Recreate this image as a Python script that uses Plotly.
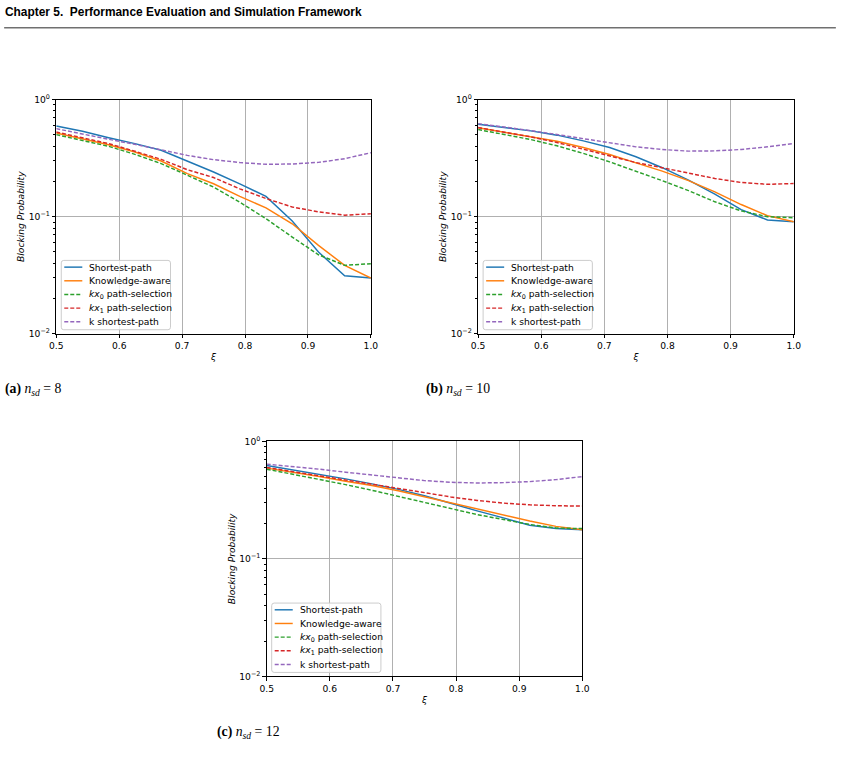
import plotly.graph_objects as go

# ---------------- data ----------------
xi = [0.5, 0.5417, 0.5833, 0.625, 0.6667, 0.7083, 0.75, 0.7917, 0.8333, 0.875, 0.9167, 0.9583, 1.0]

series_names = ["Shortest-path", "Knowledge-aware",
                "<i>kx</i><sub>0</sub> path-selection",
                "<i>kx</i><sub>1</sub> path-selection",
                "k shortest-path"]

# n_sd = 8
a_shortest = [0.596, 0.536, 0.473, 0.421, 0.369, 0.299, 0.241, 0.191, 0.149, 0.092, 0.0499, 0.0313, 0.0299]
a_knowledge = [0.519, 0.461, 0.412, 0.357, 0.299, 0.233, 0.191, 0.149, 0.119, 0.087, 0.0569, 0.0384, 0.0299]
a_kx0 = [0.502, 0.449, 0.399, 0.341, 0.284, 0.226, 0.179, 0.133, 0.0961, 0.067, 0.0473, 0.0384, 0.0397]
a_kx1 = [0.529, 0.470, 0.421, 0.362, 0.309, 0.252, 0.216, 0.173, 0.143, 0.121, 0.110, 0.103, 0.106]
a_kshort = [0.565, 0.506, 0.458, 0.415, 0.374, 0.334, 0.307, 0.290, 0.280, 0.282, 0.291, 0.313, 0.352]

# n_sd = 10
b_shortest = [0.617, 0.577, 0.541, 0.497, 0.444, 0.390, 0.325, 0.262, 0.205, 0.156, 0.115, 0.0937, 0.0906]
b_knowledge = [0.574, 0.527, 0.487, 0.441, 0.390, 0.340, 0.288, 0.245, 0.203, 0.163, 0.127, 0.102, 0.0906]
b_kx0 = [0.555, 0.503, 0.456, 0.403, 0.347, 0.294, 0.245, 0.203, 0.167, 0.134, 0.112, 0.100, 0.098]
b_kx1 = [0.577, 0.530, 0.481, 0.430, 0.377, 0.329, 0.290, 0.262, 0.234, 0.212, 0.196, 0.189, 0.192]
b_kshort = [0.624, 0.585, 0.544, 0.503, 0.462, 0.425, 0.395, 0.375, 0.363, 0.365, 0.375, 0.395, 0.422]

# n_sd = 12
c_shortest = [0.623, 0.572, 0.525, 0.479, 0.434, 0.390, 0.344, 0.296, 0.256, 0.223, 0.193, 0.181, 0.177]
c_knowledge = [0.591, 0.546, 0.501, 0.457, 0.420, 0.380, 0.338, 0.300, 0.265, 0.235, 0.210, 0.189, 0.177]
c_kx0 = [0.579, 0.525, 0.479, 0.428, 0.383, 0.340, 0.302, 0.265, 0.238, 0.216, 0.196, 0.183, 0.181]
c_kx1 = [0.599, 0.553, 0.511, 0.466, 0.431, 0.398, 0.366, 0.336, 0.314, 0.298, 0.288, 0.283, 0.281]
c_kshort = [0.639, 0.611, 0.579, 0.546, 0.515, 0.485, 0.463, 0.448, 0.442, 0.445, 0.454, 0.472, 0.501]

x_ticks = [0.5, 0.6, 0.7, 0.8, 0.9, 1.0]
x_ticklabels = ["0.5", "0.6", "0.7", "0.8", "0.9", "1.0"]
y_ticks = [0.01, 0.1, 1]
y_ticklabels = ["10<sup>−2</sup>", "10<sup>−1</sup>", "10<sup>0</sup>"]
y_minor = [m * d for d in (0.01, 0.1) for m in range(2, 10)]

captions = ["<b>(a)</b> <i>n<sub>sd</sub></i> = 8",
            "<b>(b)</b> <i>n<sub>sd</sub></i> = 10",
            "<b>(c)</b> <i>n<sub>sd</sub></i> = 12"]
header = "<b>Chapter 5.  Performance Evaluation and Simulation Framework</b>"

# ---------------- style ----------------
W, H = 842, 765
# the page is shown with an 8 px body margin and fitted back into the window;
# positions below are given in final-picture pixels and mapped into figure pixels.
SX, SY = W / (W + 16), H / (H + 16)
colors = ["#1f77b4", "#ff7f0e", "#2ca02c", "#d62728", "#9467bd"]
dashes = ["solid", "solid", "4px,2px", "4px,2px", "4px,2px"]


def fx(x):
    return x / SX - 8


def fy(y):
    return y / SY - 8


def px(x):
    return fx(x) / W


def py(y):
    return 1 - fy(y) / H


def fs(s):
    return round(s / SX, 2)


panels = [
    dict(data=[a_shortest, a_knowledge, a_kx0, a_kx1, a_kshort], box=(57, 371, 100, 333)),
    dict(data=[b_shortest, b_knowledge, b_kx0, b_kx1, b_kshort], box=(478, 793, 100, 333)),
    dict(data=[c_shortest, c_knowledge, c_kx0, c_kx1, c_kshort], box=(267, 582, 440, 674)),
]

fig = go.Figure()
layout = dict(width=W, height=H, margin=dict(l=0, r=0, t=0, b=0),
              paper_bgcolor="white", plot_bgcolor="white", showlegend=False,
              font=dict(family="DejaVu Sans", size=fs(9), color="black"))
annotations = []
shapes = []

tickfont = dict(family="DejaVu Sans", size=fs(9), color="black")


def rounded_rect(x0, y0, x1, y1, r):
    X = lambda v: f"{px(v):.5f}"
    Y = lambda v: f"{py(v):.5f}"
    return (f"M {X(x0 + r)},{Y(y0)} L {X(x1 - r)},{Y(y0)} Q {X(x1)},{Y(y0)} {X(x1)},{Y(y0 + r)} "
            f"L {X(x1)},{Y(y1 - r)} Q {X(x1)},{Y(y1)} {X(x1 - r)},{Y(y1)} "
            f"L {X(x0 + r)},{Y(y1)} Q {X(x0)},{Y(y1)} {X(x0)},{Y(y1 - r)} "
            f"L {X(x0)},{Y(y0 + r)} Q {X(x0)},{Y(y0)} {X(x0 + r)},{Y(y0)} Z")


for i, p in enumerate(panels):
    l, r, t, b = p["box"]
    sfx = "" if i == 0 else str(i + 1)
    xa, ya = "x" + sfx, "y" + sfx
    for j, ys in enumerate(p["data"]):
        fig.add_trace(go.Scatter(x=xi, y=ys, mode="lines", name=series_names[j],
                                 line=dict(color=colors[j], width=1.45, dash=dashes[j]),
                                 xaxis=xa, yaxis=ya))
    layout["xaxis" + sfx] = dict(domain=[px(l), px(r)], anchor=ya, range=[0.5, 1.0],
                                 tickvals=x_ticks, ticktext=x_ticklabels,
                                 showgrid=True, gridcolor="#b0b0b0", gridwidth=0.8,
                                 showline=True, linecolor="black", linewidth=1, mirror=True,
                                 ticks="outside", ticklen=3.5, tickcolor="black",
                                 tickfont=tickfont, zeroline=False,
                                 title=dict(text="<i>ξ</i>", font=dict(size=fs(9), family="DejaVu Sans"),
                                            standoff=3))
    layout["yaxis" + sfx] = dict(domain=[py(b), py(t)], anchor=xa, type="log", range=[-2, 0],
                                 tickvals=y_ticks, ticktext=y_ticklabels,
                                 showgrid=True, gridcolor="#b0b0b0", gridwidth=0.8,
                                 showline=True, linecolor="black", linewidth=1, mirror=True,
                                 ticks="outside", ticklen=3.5, tickcolor="black",
                                 tickfont=tickfont, zeroline=False,
                                 minor=dict(tickvals=y_minor, ticks="outside", ticklen=2,
                                            tickcolor="black", showgrid=False),
                                 title=dict(text="<i>Blocking Probability</i>",
                                            font=dict(size=fs(9), family="DejaVu Sans"), standoff=2))

    # legend drawn as a framed box in the lower-left corner of each panel
    bx0, bx1 = l + 5, l + 114
    by1 = b - 4
    by0 = by1 - 69
    shapes.append(dict(type="path", xref="paper", yref="paper", layer="above",
                       path=rounded_rect(bx0, by0, bx1, by1, 2.5),
                       fillcolor="rgba(255,255,255,0.8)", line=dict(color="#cccccc", width=1)))
    for j in range(5):
        ry = by0 + 6.7 + j * 13.6
        shapes.append(dict(type="line", xref="paper", yref="paper", layer="above",
                           x0=px(bx0 + 3), x1=px(bx0 + 21), y0=py(ry), y1=py(ry),
                           line=dict(color=colors[j], width=1.45, dash=dashes[j])))
        annotations.append(dict(text=series_names[j], x=px(bx0 + 27), y=py(ry),
                                xref="paper", yref="paper", xanchor="left", yanchor="middle",
                                showarrow=False, borderpad=0,
                                font=dict(family="DejaVu Sans", size=fs(9), color="black")))

# header
annotations.append(dict(text=header, x=px(5), y=py(13), xref="paper", yref="paper",
                        xanchor="left", yanchor="middle", showarrow=False, borderpad=0,
                        font=dict(family="Liberation Sans", size=fs(11.7), color="black")))
shapes.append(dict(type="line", xref="paper", yref="paper", x0=px(5), x1=px(835),
                   y0=py(28.5), y1=py(28.5), line=dict(color="#707070", width=1.3)))

cap_pos = [(5, 388), (425, 388), (216, 730)]
for (cx, cy), txt in zip(cap_pos, captions):
    annotations.append(dict(text=txt, x=px(cx), y=py(cy), xref="paper", yref="paper",
                            xanchor="left", yanchor="middle", showarrow=False, borderpad=0,
                            font=dict(family="Liberation Serif", size=fs(13.5), color="black")))

layout["annotations"] = annotations
layout["shapes"] = shapes
fig.update_layout(**layout)
fig.write_html("out.html")
